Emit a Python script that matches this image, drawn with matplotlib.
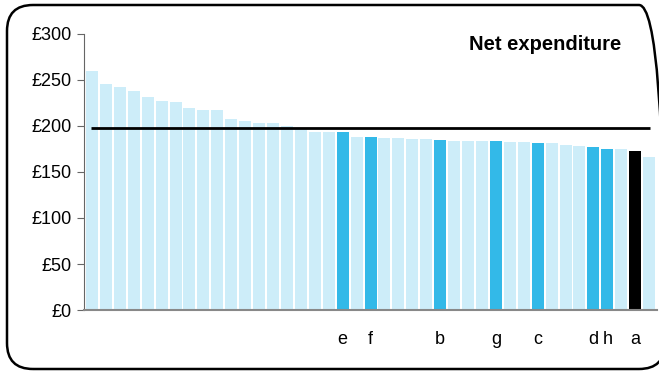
import matplotlib.pyplot as plt
from matplotlib.patches import FancyBboxPatch
import numpy as np

plt.rcParams['font.family'] = ['Liberation Sans', 'DejaVu Sans']

values = [260, 246, 242, 238, 232, 227, 226, 220, 217, 217,
          208, 205, 203, 203, 200, 198, 193, 193, 193, 188,
          188, 187, 187, 186, 186, 185, 184, 184, 184, 184,
          183, 183, 182, 182, 179, 178, 177, 175, 175, 173, 166]
# labelled authorities: bar index -> letter
highlight = {18: 'e', 20: 'f', 25: 'b', 29: 'g', 32: 'c', 36: 'd', 37: 'h', 39: 'a'}
average = 198

light = '#cdedf9'
blue = '#33b9e8'

x = np.arange(len(values))
colors = []
for i in x:
    if highlight.get(i) == 'a':
        colors.append('black')
    elif i in highlight:
        colors.append(blue)
    else:
        colors.append(light)

fig = plt.figure(figsize=(6.59, 3.71), dpi=100)

# background axes in pixel units, only for the rounded frame
bg = fig.add_axes([0, 0, 1, 1])
bg.set_xlim(0, 659)
bg.set_ylim(0, 371)
bg.axis('off')
frame = FancyBboxPatch((7, 2), 658, 364, boxstyle='round,pad=0,rounding_size=26',
                       fill=False, lw=1.8, ec='black')
bg.add_patch(frame)

ax = fig.add_axes([0.1275, 0.1644, 0.8695, 0.744])
ax.patch.set_alpha(0)

ax.bar(x, values, width=0.86, color=colors, zorder=2)
ax.hlines(average, -0.1, len(values) - 0.9, color='black', lw=2, zorder=3)

ax.set_xlim(-0.57, len(values) - 0.43)
ax.set_ylim(0, 300)
ax.set_yticks(range(0, 301, 50))
ax.set_yticklabels([f'£{v}' for v in range(0, 301, 50)], fontsize=13)
ax.set_xticks(list(highlight.keys()))
ax.set_xticklabels(list(highlight.values()), fontsize=13)
ax.tick_params(axis='x', length=0, pad=15)
ax.tick_params(axis='y', length=5, color='#666666', pad=4)

for s in ['top', 'right']:
    ax.spines[s].set_visible(False)
ax.spines['left'].set_color('#666666')
ax.spines['bottom'].set_color('#888888')
ax.spines['bottom'].set_linewidth(1.5)

ax.text(0.937, 0.995, 'Net expenditure', transform=ax.transAxes, ha='right', va='top',
        fontsize=14.5, fontweight='bold')

plt.savefig('out.png', dpi=100)
